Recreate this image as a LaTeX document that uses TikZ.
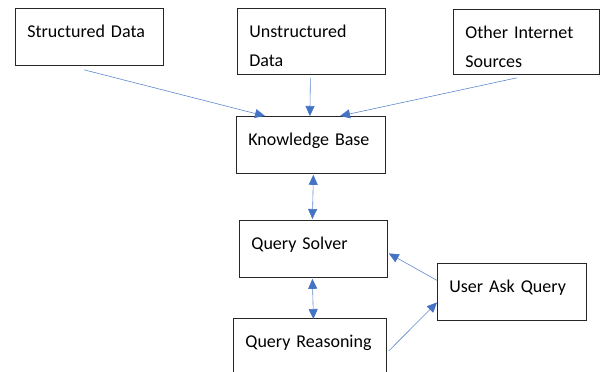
\documentclass[tikz,border=0pt]{standalone}
\usepackage{fontspec}
\setmainfont{Carlito}
\usetikzlibrary{arrows.meta}
\definecolor{azulseta}{RGB}{68,114,196}

\tikzset{
    caixa/.style={draw=black!85, line width=0.8pt, anchor=north west, align=left,
        inner xsep=12pt, inner ysep=0pt, text height=29pt, text depth=28pt,
        font=\fontsize{18}{29}\selectfont},
    seta/.style={draw=azulseta!85, line width=0.6pt,
        -{Triangle[length=10pt, width=9pt, color=azulseta, fill=azulseta]}},
    seta dupla/.style={seta,
        {Triangle[length=10pt, width=9pt, color=azulseta, fill=azulseta]}-{Triangle[length=10pt, width=9pt, color=azulseta, fill=azulseta]}}
}

\begin{document}
\begin{tikzpicture}[x=1pt, y=-1pt]
    \useasboundingbox (0,0) rectangle (600,372);
    \clip (0,0) rectangle (600,372);

    % Fontes de dados
    \node[caixa, text width=124pt] (sd) at (15,8) {Structured Data};
    \node[caixa, text width=124pt, text depth=37pt] (ud) at (237,8) {Unstructured\\Data};
    \node[caixa, text width=122pt, text depth=36pt] (ois) at (453,9) {Other Internet\\Sources};

    % Base e consultas
    \node[caixa, text width=125pt] (kb) at (236,116) {Knowledge Base};
    \node[caixa, text width=124pt] (qs) at (239,220) {Query Solver};
    \node[caixa, text width=125pt] (uaq) at (437,263) {User Ask Query};
    \node[caixa, text width=129pt] (qr) at (233,318) {Query Reasoning};

    % Setas
    \draw[seta] ([xshift=69pt, yshift=-4pt]sd.south west) -- ([xshift=29pt]kb.north west);
    \draw[seta] ([xshift=-1pt, yshift=-3pt]ud.south) -- ([xshift=-1pt]kb.north);
    \draw[seta] ([xshift=64pt, yshift=-3pt]ois.south west) -- ([xshift=104pt]kb.north west);
    \draw[seta dupla] ([xshift=2.5pt, yshift=-1pt]kb.south) -- ([xshift=-1pt, yshift=1pt]qs.north);
    \draw[seta dupla] ([xshift=-1pt, yshift=-1pt]qs.south) -- ([xshift=3.5pt, yshift=-1pt]qr.north);
    \draw[seta] ([yshift=11.5pt]uaq.west) -- ([xshift=1pt, yshift=-4.5pt]qs.east);
    \draw[seta] ([xshift=2pt, yshift=-4pt]qr.east) -- ([yshift=-10.5pt]uaq.west);
\end{tikzpicture}
\end{document}
